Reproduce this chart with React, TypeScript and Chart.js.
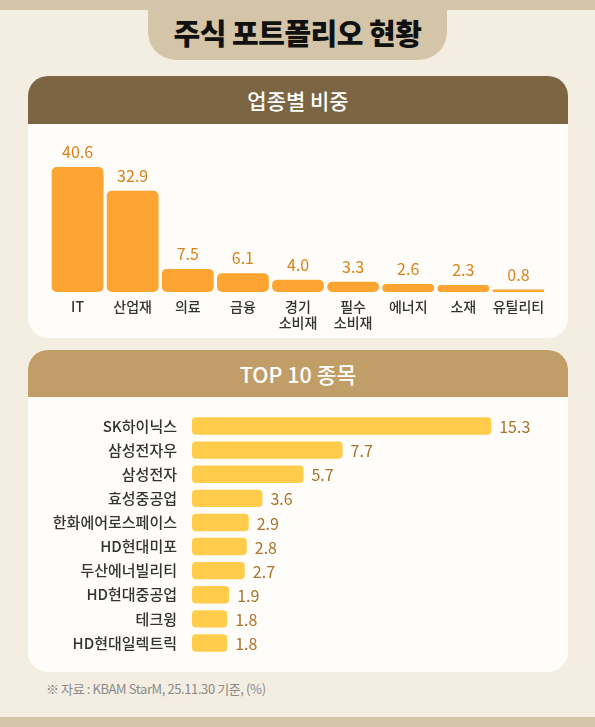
import React, { useEffect, useRef } from "react";
import { Chart, registerables } from "chart.js";

Chart.register(...registerables);

const sectorLabels: string[][] = [["IT"], ["산업재"], ["의료"], ["금융"], ["경기", "소비재"], ["필수", "소비재"], ["에너지"], ["소재"], ["유틸리티"]];
const sectorValues: number[] = [40.6, 32.9, 7.5, 6.1, 4.0, 3.3, 2.6, 2.3, 0.8];
const stockLabels: string[] = ["SK하이닉스", "삼성전자우", "삼성전자", "효성중공업", "한화에어로스페이스", "HD현대미포", "두산에너빌리티", "HD현대중공업", "테크윙", "HD현대일렉트릭"];
const stockValues: number[] = [15.3, 7.7, 5.7, 3.6, 2.9, 2.8, 2.7, 1.9, 1.8, 1.8];

const FONT = "'Noto Sans CJK KR', 'Noto Sans', sans-serif";

function valueLabels(mode: "top" | "right", color: string, font: string) {
  return {
    id: "valueLabels_" + mode,
    afterDatasetsDraw(chart: any) {
      const ctx = chart.ctx;
      const meta = chart.getDatasetMeta(0);
      const data = chart.data.datasets[0].data as number[];
      ctx.save();
      ctx.fillStyle = color;
      ctx.font = font;
      meta.data.forEach((el: any, i: number) => {
        const v = Number(data[i]).toFixed(1);
        ctx.textBaseline = "middle";
        if (mode === "top") {
          ctx.textAlign = "center";
          ctx.fillText(v, el.x, el.y - 15);
        } else {
          ctx.textAlign = "left";
          ctx.fillText(v, el.x + 8, el.y + 1);
        }
      });
      ctx.restore();
    },
  };
}

export default function App() {
  const c1 = useRef<HTMLCanvasElement>(null);
  const c2 = useRef<HTMLCanvasElement>(null);

  useEffect(() => {
    document.body.style.margin = "0";
    const ch1 = new Chart(c1.current!, {
      type: "bar",
      data: {
        labels: sectorLabels,
        datasets: [
          {
            data: sectorValues,
            backgroundColor: "#fda433",
            borderRadius: 5,
            borderSkipped: false,
            barPercentage: 0.94,
            categoryPercentage: 1,
          },
        ],
      },
      options: {
        responsive: false,
        animation: false,
        layout: { padding: { left: 22, right: 22, top: 14, bottom: 0 } },
        plugins: { legend: { display: false }, tooltip: { enabled: false } },
        scales: {
          x: {
            grid: { display: true, drawOnChartArea: false, drawTicks: true, tickLength: 7, color: "rgba(0,0,0,0)" },
            border: { display: false },
            ticks: {
              color: "#333333",
              padding: 0,
              maxRotation: 0,
              minRotation: 0,
              autoSkip: false,
              font: { family: FONT, size: 14, weight: 500, lineHeight: 1.15 },
            },
            afterFit: (s: any) => {
              s.height = 46;
            },
          },
          y: { display: false, min: 0, max: 50 },
        },
      },
      plugins: [valueLabels("top", "#d8821b", `400 16px ${FONT}`)],
    } as any);

    const ch2 = new Chart(c2.current!, {
      type: "bar",
      data: {
        labels: stockLabels,
        datasets: [
          {
            data: stockValues,
            backgroundColor: "#ffcd4b",
            borderRadius: 4,
            borderSkipped: false,
            barPercentage: 0.72,
            categoryPercentage: 1,
          },
        ],
      },
      options: {
        indexAxis: "y",
        responsive: false,
        animation: false,
        layout: { padding: { left: 0, right: 24, top: 17, bottom: 17 } },
        plugins: { legend: { display: false }, tooltip: { enabled: false } },
        scales: {
          y: {
            grid: { display: true, drawOnChartArea: false, drawTicks: true, tickLength: 15, color: "rgba(0,0,0,0)" },
            border: { display: false },
            ticks: {
              color: "#333333",
              padding: 0,
              autoSkip: false,
              font: { family: FONT, size: 15, weight: 500 },
            },
            afterFit: (s: any) => {
              s.width = 164;
            },
          },
          x: { display: false, min: 0, max: 18 },
        },
      },
      plugins: [valueLabels("right", "#a8732c", `400 16px ${FONT}`)],
    } as any);

    return () => {
      ch1.destroy();
      ch2.destroy();
    };
  }, []);

  const band = "#d4c4a8";
  return (
    <div
      style={{
        position: "absolute",
        left: 0,
        top: 0,
        width: 595,
        height: 727,
        background: "#f3ede2",
        fontFamily: FONT,
        overflow: "hidden",
      }}
    >
      <div style={{ position: "absolute", left: 0, top: 0, width: 595, height: 10, background: band }} />
      <div
        style={{
          position: "absolute",
          left: 148,
          top: 0,
          width: 299,
          height: 60,
          background: band,
          borderBottomLeftRadius: 28,
          borderBottomRightRadius: 28,
          display: "flex",
          alignItems: "center",
          justifyContent: "center",
        }}
      >
        <span style={{ fontSize: 29, fontWeight: 900, color: "#111", marginTop: 4, letterSpacing: -0.5 }}>
          주식 포트폴리오 현황
        </span>
      </div>

      {/* panel 1 */}
      <div
        style={{
          position: "absolute",
          left: 28,
          top: 76,
          width: 540,
          height: 262,
          background: "#fffdf9",
          borderRadius: 20,
          overflow: "hidden",
        }}
      >
        <div
          style={{
            height: 48,
            background: "#7b6543",
            color: "#fff",
            display: "flex",
            alignItems: "center",
            justifyContent: "center",
            fontSize: 21,
            fontWeight: 500,
          }}
        >
          업종별 비중
        </div>
        <canvas ref={c1} width={540} height={214} style={{ display: "block", width: 540, height: 214 }} />
      </div>

      {/* panel 2 */}
      <div
        style={{
          position: "absolute",
          left: 28,
          top: 350,
          width: 540,
          height: 322,
          background: "#fffdf9",
          borderRadius: 20,
          overflow: "hidden",
        }}
      >
        <div
          style={{
            height: 47,
            background: "#c19e68",
            color: "#fff",
            display: "flex",
            alignItems: "center",
            justifyContent: "center",
            fontSize: 21.5,
            fontWeight: 500,
          }}
        >
          TOP 10 종목
        </div>
        <canvas ref={c2} width={540} height={275} style={{ display: "block", width: 540, height: 275 }} />
      </div>

      <div
        style={{
          position: "absolute",
          left: 46,
          top: 679,
          fontSize: 13,
          color: "#8a8a8a",
          letterSpacing: -0.4,
          fontWeight: 400,
          whiteSpace: "nowrap",
        }}
      >
        ※ 자료 : KBAM StarM, 25.11.30 기준, (%)
      </div>

      <div style={{ position: "absolute", left: 0, top: 717, width: 595, height: 10, background: band }} />
    </div>
  );
}
